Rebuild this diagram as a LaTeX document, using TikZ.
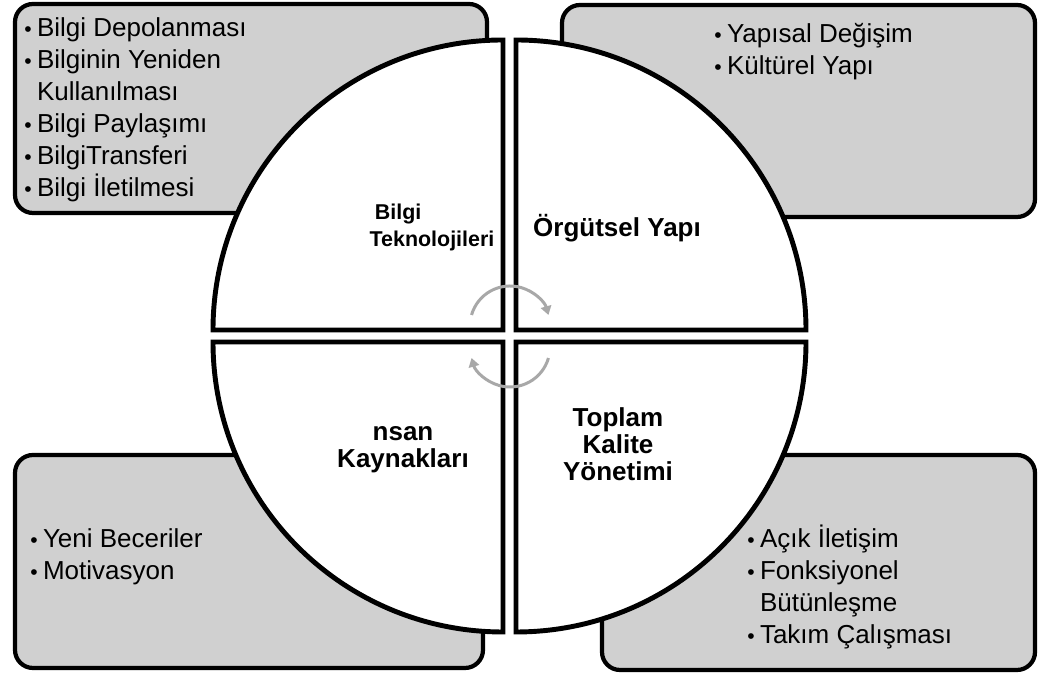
\documentclass[tikz,border=0pt]{standalone}
\usepackage{fontspec}
\setmainfont{Liberation Sans}
\usetikzlibrary{arrows.meta}
\definecolor{kutugri}{HTML}{D0D0D0}
\definecolor{okgri}{HTML}{A8A8A8}
\newcommand{\nokta}{{\fontsize{12}{12}\selectfont•}\kern3pt}

\begin{document}
\begin{tikzpicture}[x=0.02cm, y=0.02cm,
  kutu/.style={draw=black, line width=2.4pt, fill=kutugri, rounded corners=0.36cm},
  dilim/.style={draw=black, line width=2.8pt, fill=white, line join=miter},
  madde/.style={anchor=north west, inner sep=0pt, align=left, font=\fontsize{14.8}{18.2}\selectfont},
  baslik/.style={inner sep=0pt, align=center, font=\fontsize{14.8}{15.4}\selectfont\bfseries},
  dongu/.style={draw=okgri, line width=1.7pt, -{Triangle[length=5pt, width=6pt]}}]

  \useasboundingbox (0,0) rectangle (1045,675);
  \def\R{290}  % ceyrek yaricap

  % ---- 1) koselerdeki gri kutular ----
  \draw[kutu] (15,462) rectangle (487,671);
  \draw[kutu] (562,458) rectangle (1035,670);
  \draw[kutu] (15,7) rectangle (483,220);
  \draw[kutu] (602,5) rectangle (1035,220);

  % ---- 2) dort ceyrek daire ----
  \draw[dilim] (503,345) -- (503-\R,345) arc[start angle=180, end angle=90, radius=\R] -- cycle;
  \draw[dilim] (516,345) -- (516,345+\R) arc[start angle=90, end angle=0, radius=\R] -- cycle;
  \draw[dilim] (503,333) -- (503,333-\R) arc[start angle=270, end angle=180, radius=\R] -- cycle;
  \draw[dilim] (516,333) -- (516+\R,333) arc[start angle=0, end angle=-90, radius=\R] -- cycle;

  % ---- 3) ortadaki donen oklar ----
  \draw[dongu] (510,349) ++(164:40) arc[start angle=164, end angle=16, radius=40];
  \draw[dongu] (510,328) ++(-16:40) arc[start angle=-16, end angle=-164, radius=40];

  % ---- 4) ceyrek basliklari ----
  \node[baslik, align=left, font=\fontsize{12.2}{15.4}\selectfont\bfseries] (bilgiTek) at (432,448)
    {\hspace*{3pt}Bilgi\\Teknolojileri};
  \node[baslik] (orgYapi) at (617,447) {Örgütsel Yapı};
  \node[baslik] (insanKay) at (403,225) {nsan\\Kaynakları};
  \node[baslik] (tkYon) at (618,231) {Toplam\\Kalite\\Yönetimi};

  % ---- 5) madde listeleri ----
  \node[madde] (bilgiListe) at (24,658)
    {\nokta Bilgi Depolanması\\\nokta Bilginin Yeniden\\\hphantom{\nokta}Kullanılması\\\nokta Bilgi Paylaşımı\\\nokta BilgiTransferi\\\nokta Bilgi İletilmesi};
  \node[madde] (orgListe) at (714,652) {\nokta Yapısal Değişim\\\nokta Kültürel Yapı};
  \node[madde] (insanListe) at (30,147) {\nokta Yeni Beceriler\\\nokta Motivasyon};
  \node[madde] (tkListe) at (747,150)
    {\nokta Açık İletişim\\\nokta Fonksiyonel\\\hphantom{\nokta}Bütünleşme\\\nokta Takım Çalışması};
\end{tikzpicture}
\end{document}
